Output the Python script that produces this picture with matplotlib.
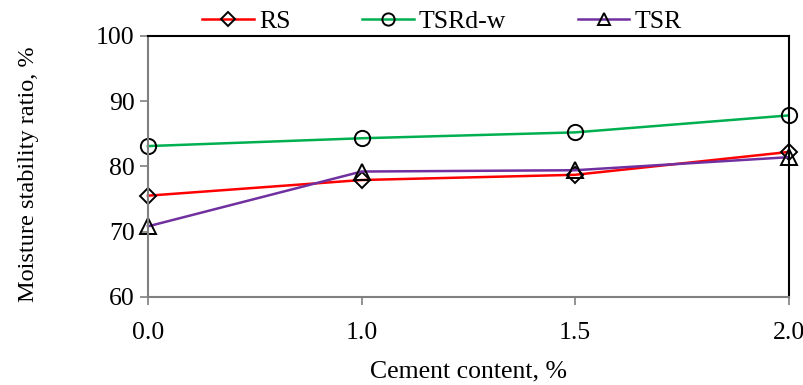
import matplotlib.pyplot as plt

# Data (categorical x positions)
cement = ['0.0', '1.0', '1.5', '2.0']
rs = [75.5, 77.9, 78.7, 82.2]
tsr_dw = [83.1, 84.3, 85.2, 87.8]
tsr = [70.8, 79.2, 79.4, 81.4]

plt.rcParams['font.family'] = ['Liberation Serif', 'DejaVu Serif']
fs = 18.5

fig = plt.figure(figsize=(8.04, 3.85), dpi=100)
ax = fig.add_axes([0.184, 0.229, 0.797, 0.678])

x = range(len(cement))
ax.plot(x, rs, color='#FF0000', lw=1.8, marker='D', ms=8.5, mfc='none',
        mec='black', mew=1.4, label='RS')
ax.plot(x, tsr_dw, color='#00B050', lw=1.8, marker='o', ms=11, mfc='none',
        mec='black', mew=1.4, label='TSRd-w')
ax.plot(x, tsr, color='#7030A0', lw=1.8, marker='^', ms=11, mfc='none',
        mec='black', mew=1.4, label='TSR')

ax.set_xlim(0, 3)
ax.set_ylim(60, 100)
ax.set_yticks([60, 70, 80, 90, 100])
ax.set_xticks(list(x))
ax.set_xticklabels(cement)

for s in ['left', 'bottom']:
    ax.spines[s].set_color('#808080')
    ax.spines[s].set_linewidth(1.5)
for s in ['top', 'right']:
    ax.spines[s].set_color('black')
    ax.spines[s].set_linewidth(1.5)

ax.tick_params(axis='both', direction='out', length=6, width=1.2,
               color='#808080', labelsize=fs)
ax.tick_params(axis='y', pad=3.5)
ax.tick_params(axis='x', pad=12)

ax.set_xlabel('Cement content, %', fontsize=fs, labelpad=12)
ax.set_ylabel('Moisture stability ratio, %', fontsize=17.5)
ax.yaxis.set_label_coords(-0.17, 0.468)

leg = ax.legend(loc='lower center', bbox_to_anchor=(0.459, 1.0), ncol=3,
                frameon=False, fontsize=fs, handlelength=2.0,
                handletextpad=0.2, columnspacing=2.8, borderaxespad=0,
                borderpad=0.1, markerscale=0.8)

for line in ax.lines:
    line.set_clip_on(False)

plt.savefig('out.png', dpi=100)
